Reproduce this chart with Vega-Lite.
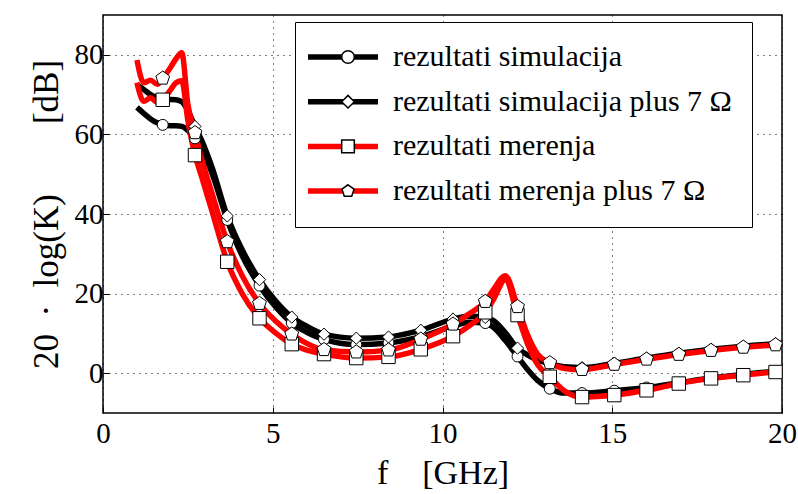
{
  "$schema": "https://vega.github.io/schema/vega-lite/v6.json",
  "width": 679,
  "height": 398,
  "autosize": {"type": "none"},
  "padding": {"left": 103, "top": 15, "right": 16, "bottom": 81},
  "background": "white",
  "config": {
    "font": "'Liberation Serif', 'Times New Roman', serif",
    "view": {"stroke": "black", "strokeWidth": 1.5},
    "axis": {
      "domain": false,
      "grid": true,
      "gridColor": "black",
      "gridDash": [1, 5],
      "gridWidth": 1,
      "gridOpacity": 1,
      "tickColor": "black",
      "tickSize": -6,
      "tickWidth": 1,
      "labelFont": "'Liberation Serif', 'Times New Roman', serif",
      "labelFontSize": 29,
      "labelColor": "black",
      "titleFont": "'Liberation Serif', 'Times New Roman', serif",
      "titleFontSize": 34,
      "titleFontWeight": "normal",
      "titleColor": "black"
    },
    "legend": {
      "labelFont": "'Liberation Serif', 'Times New Roman', serif"
    }
  },
  "data": {
    "values": [
      {"f": 1.0, "rezultati simulacija": 66.8, "rezultati simulacija plus 7 Ω": 72.5, "rezultati merenja": 73.0, "rezultati merenja plus 7 Ω": 78.7},
      {"f": 1.2, "rezultati simulacija": 65.3, "rezultati simulacija plus 7 Ω": 71.3, "rezultati merenja": 68.3, "rezultati merenja plus 7 Ω": 73.0},
      {"f": 1.4, "rezultati simulacija": 63.9, "rezultati simulacija plus 7 Ω": 70.0, "rezultati merenja": 69.2, "rezultati merenja plus 7 Ω": 73.6},
      {"f": 1.6, "rezultati simulacija": 62.9, "rezultati simulacija plus 7 Ω": 69.2, "rezultati merenja": 68.0, "rezultati merenja plus 7 Ω": 72.6},
      {"f": 1.76, "rezultati simulacija": 62.4, "rezultati simulacija plus 7 Ω": 68.7, "rezultati merenja": 68.7, "rezultati merenja plus 7 Ω": 74.1},
      {"f": 2.0, "rezultati simulacija": 62.2, "rezultati simulacija plus 7 Ω": 68.8, "rezultati merenja": 71.3, "rezultati merenja plus 7 Ω": 77.0},
      {"f": 2.15, "rezultati simulacija": 62.2, "rezultati simulacija plus 7 Ω": 68.7, "rezultati merenja": 73.0, "rezultati merenja plus 7 Ω": 79.0},
      {"f": 2.32, "rezultati simulacija": 62.0, "rezultati simulacija plus 7 Ω": 68.2, "rezultati merenja": 73.5, "rezultati merenja plus 7 Ω": 80.5},
      {"f": 2.5, "rezultati simulacija": 61.0, "rezultati simulacija plus 7 Ω": 66.0, "rezultati merenja": 63.5, "rezultati merenja plus 7 Ω": 67.5},
      {"f": 2.71, "rezultati simulacija": 59.0, "rezultati simulacija plus 7 Ω": 62.0, "rezultati merenja": 54.8, "rezultati merenja plus 7 Ω": 60.4},
      {"f": 2.9, "rezultati simulacija": 56.5, "rezultati simulacija plus 7 Ω": 58.6, "rezultati merenja": 49.5, "rezultati merenja plus 7 Ω": 54.0},
      {"f": 3.2, "rezultati simulacija": 50.5, "rezultati simulacija plus 7 Ω": 52.0, "rezultati merenja": 41.0, "rezultati merenja plus 7 Ω": 45.5},
      {"f": 3.66, "rezultati simulacija": 38.5, "rezultati simulacija plus 7 Ω": 39.5, "rezultati merenja": 28.0, "rezultati merenja plus 7 Ω": 33.0},
      {"f": 4.1, "rezultati simulacija": 29.5, "rezultati simulacija plus 7 Ω": 31.0, "rezultati merenja": 20.0, "rezultati merenja plus 7 Ω": 24.5},
      {"f": 4.61, "rezultati simulacija": 22.0, "rezultati simulacija plus 7 Ω": 23.5, "rezultati merenja": 13.8, "rezultati merenja plus 7 Ω": 17.5},
      {"f": 5.1, "rezultati simulacija": 16.5, "rezultati simulacija plus 7 Ω": 18.0, "rezultati merenja": 10.0, "rezultati merenja plus 7 Ω": 13.0},
      {"f": 5.56, "rezultati simulacija": 12.6, "rezultati simulacija plus 7 Ω": 14.1, "rezultati merenja": 7.3, "rezultati merenja plus 7 Ω": 9.8},
      {"f": 6.0, "rezultati simulacija": 10.3, "rezultati simulacija plus 7 Ω": 11.8, "rezultati merenja": 5.8, "rezultati merenja plus 7 Ω": 7.5},
      {"f": 6.51, "rezultati simulacija": 8.5, "rezultati simulacija plus 7 Ω": 9.8, "rezultati merenja": 4.8, "rezultati merenja plus 7 Ω": 5.9},
      {"f": 7.46, "rezultati simulacija": 7.2, "rezultati simulacija plus 7 Ω": 8.8, "rezultati merenja": 3.8, "rezultati merenja plus 7 Ω": 5.3},
      {"f": 8.41, "rezultati simulacija": 7.6, "rezultati simulacija plus 7 Ω": 9.1, "rezultati merenja": 4.1, "rezultati merenja plus 7 Ω": 5.8},
      {"f": 9.36, "rezultati simulacija": 9.2, "rezultati simulacija plus 7 Ω": 10.8, "rezultati merenja": 6.0, "rezultati merenja plus 7 Ω": 8.5},
      {"f": 10.31, "rezultati simulacija": 11.8, "rezultati simulacija plus 7 Ω": 13.6, "rezultati merenja": 9.3, "rezultati merenja plus 7 Ω": 12.3},
      {"f": 10.8, "rezultati simulacija": 12.8, "rezultati simulacija plus 7 Ω": 14.3, "rezultati merenja": 12.0, "rezultati merenja plus 7 Ω": 15.0},
      {"f": 11.26, "rezultati simulacija": 12.6, "rezultati simulacija plus 7 Ω": 14.0, "rezultati merenja": 15.3, "rezultati merenja plus 7 Ω": 18.0},
      {"f": 11.5, "rezultati simulacija": 11.5, "rezultati simulacija plus 7 Ω": 13.2, "rezultati merenja": 18.5, "rezultati merenja plus 7 Ω": 21.0},
      {"f": 11.85, "rezultati simulacija": 8.2, "rezultati simulacija plus 7 Ω": 10.2, "rezultati merenja": 23.5, "rezultati merenja plus 7 Ω": 24.5},
      {"f": 12.21, "rezultati simulacija": 4.2, "rezultati simulacija plus 7 Ω": 6.3, "rezultati merenja": 14.6, "rezultati merenja plus 7 Ω": 16.7},
      {"f": 12.5, "rezultati simulacija": 1.0, "rezultati simulacija plus 7 Ω": 4.6, "rezultati merenja": 7.5, "rezultati merenja plus 7 Ω": 9.8},
      {"f": 12.8, "rezultati simulacija": -1.8, "rezultati simulacija plus 7 Ω": 3.3, "rezultati merenja": 2.2, "rezultati merenja plus 7 Ω": 4.8},
      {"f": 13.16, "rezultati simulacija": -3.9, "rezultati simulacija plus 7 Ω": 2.4, "rezultati merenja": -0.9, "rezultati merenja plus 7 Ω": 2.6},
      {"f": 13.6, "rezultati simulacija": -5.0, "rezultati simulacija plus 7 Ω": 1.6, "rezultati merenja": -4.5, "rezultati merenja plus 7 Ω": 1.2},
      {"f": 14.11, "rezultati simulacija": -5.0, "rezultati simulacija plus 7 Ω": 1.4, "rezultati merenja": -6.0, "rezultati merenja plus 7 Ω": 0.9},
      {"f": 15.06, "rezultati simulacija": -4.4, "rezultati simulacija plus 7 Ω": 2.5, "rezultati merenja": -5.5, "rezultati merenja plus 7 Ω": 2.2},
      {"f": 16.01, "rezultati simulacija": -3.6, "rezultati simulacija plus 7 Ω": 3.8, "rezultati merenja": -4.3, "rezultati merenja plus 7 Ω": 3.5},
      {"f": 16.96, "rezultati simulacija": -2.4, "rezultati simulacija plus 7 Ω": 5.0, "rezultati merenja": -2.6, "rezultati merenja plus 7 Ω": 4.7},
      {"f": 17.91, "rezultati simulacija": -1.2, "rezultati simulacija plus 7 Ω": 6.0, "rezultati merenja": -1.3, "rezultati merenja plus 7 Ω": 5.7},
      {"f": 18.86, "rezultati simulacija": -0.3, "rezultati simulacija plus 7 Ω": 6.8, "rezultati merenja": -0.5, "rezultati merenja plus 7 Ω": 6.5},
      {"f": 19.81, "rezultati simulacija": 0.5, "rezultati simulacija plus 7 Ω": 7.4, "rezultati merenja": 0.3, "rezultati merenja plus 7 Ω": 7.1},
      {"f": 20.0, "rezultati simulacija": 0.6, "rezultati simulacija plus 7 Ω": 7.5, "rezultati merenja": 0.4, "rezultati merenja plus 7 Ω": 7.2}
    ]
  },
  "transform": [
    {"fold": ["rezultati simulacija", "rezultati simulacija plus 7 Ω", "rezultati merenja", "rezultati merenja plus 7 Ω"], "as": ["serija", "k"]}
  ],
  "encoding": {
    "x": {
      "field": "f", "type": "quantitative",
      "scale": {"domain": [0, 20], "nice": false, "zero": false},
      "axis": {"values": [0, 5, 10, 15, 20], "title": "f\u2003[GHz]", "labelPadding": 12, "titlePadding": 8, "labelFlush": false}
    },
    "y": {
      "field": "k", "type": "quantitative",
      "scale": {"domain": [-10, 90], "nice": false, "zero": false},
      "axis": {"values": [0, 20, 40, 60, 80], "title": "20\u2002·\u2002log(K)\u2003\u2003[dB]", "titleFontSize": 35, "labelPadding": 6, "titlePadding": 10}
    }
  },
  "layer": [
    {
      "transform": [{"filter": {"field": "serija", "oneOf": ["rezultati simulacija", "rezultati simulacija plus 7 Ω"]}}],
      "mark": {"type": "line", "strokeWidth": 5.5, "interpolate": "monotone"},
      "encoding": {
        "color": {
          "field": "serija", "type": "nominal",
          "scale": {
            "domain": ["rezultati simulacija", "rezultati simulacija plus 7 Ω", "rezultati merenja", "rezultati merenja plus 7 Ω"],
            "range": ["black", "black", "#ff0000", "#ff0000"]
          },
          "legend": {
            "orient": "none", "legendX": 192, "legendY": 7,
            "title": null, "direction": "vertical",
            "symbolType": "M-1.833,0H4", "symbolSize": 576, "symbolStrokeWidth": 5.5,
            "labelFontSize": 30, "labelColor": "black",
            "labelOffset": 48, "labelLimit": 600,
            "padding": 20, "rowPadding": 14.7,
            "strokeColor": "black", "fillColor": "white"
          }
        }
      }
    },
    {
      "transform": [{"filter": {"field": "serija", "oneOf": ["rezultati merenja", "rezultati merenja plus 7 Ω"]}}],
      "mark": {"type": "line", "strokeWidth": 5.5, "interpolate": "monotone"},
      "encoding": {
        "color": {
          "field": "serija", "type": "nominal",
          "scale": {
            "domain": ["rezultati simulacija", "rezultati simulacija plus 7 Ω", "rezultati merenja", "rezultati merenja plus 7 Ω"],
            "range": ["black", "black", "#ff0000", "#ff0000"]
          },
          "legend": {
            "orient": "none", "legendX": 192, "legendY": 7,
            "title": null, "direction": "vertical",
            "symbolType": "M-1.833,0H4", "symbolSize": 576, "symbolStrokeWidth": 5.5,
            "labelFontSize": 30, "labelColor": "black",
            "labelOffset": 48, "labelLimit": 600,
            "padding": 20, "rowPadding": 14.7,
            "strokeColor": "black", "fillColor": "white"
          }
        }
      }
    },
    {
      "transform": [{"filter": {"field": "f", "oneOf": [1.76, 2.71, 3.66, 4.61, 5.56, 6.51, 7.46, 8.41, 9.36, 10.31, 11.26, 12.21, 13.16, 14.11, 15.06, 16.01, 16.96, 17.91, 18.86, 19.81]}}],
      "mark": {"type": "point", "filled": true, "fill": "white", "stroke": "black", "strokeWidth": 1, "opacity": 1},
      "encoding": {
        "shape": {
          "field": "serija", "type": "nominal",
          "sort": ["rezultati simulacija", "rezultati simulacija plus 7 Ω", "rezultati merenja", "rezultati merenja plus 7 Ω"],
          "scale": {
            "range": ["circle", "diamond", "square", "M0,-1L0.951,-0.309L0.588,0.809L-0.588,0.809L-0.951,-0.309Z"]
          },
          "legend": {
            "orient": "none", "legendX": 230, "legendY": 27,
            "title": null, "direction": "vertical",
            "symbolSize": 160,
            "labelExpr": "''", "labelFontSize": 30,
            "padding": 0, "rowPadding": 14.7
          }
        },
        "size": {
          "field": "serija", "type": "nominal",
          "sort": ["rezultati simulacija", "rezultati simulacija plus 7 Ω", "rezultati merenja", "rezultati merenja plus 7 Ω"],
          "scale": {"range": [120, 210, 170, 170]},
          "legend": null
        }
      }
    }
  ]
}
